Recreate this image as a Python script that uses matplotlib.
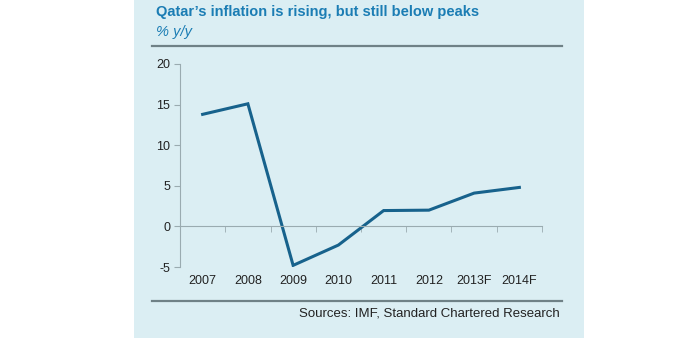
import matplotlib.pyplot as plt
from matplotlib.patches import Rectangle
from matplotlib.lines import Line2D

# данные графика
years = ["2007", "2008", "2009", "2010", "2011", "2012", "2013F", "2014F"]
inflation = [13.8, 15.1, -4.8, -2.3, 1.95, 2.0, 4.1, 4.8]
y_ticks = [-5, 0, 5, 10, 15, 20]

W, H = 692, 338
fig = plt.figure(figsize=(W / 100, H / 100), dpi=100)
fig.patch.set_facecolor("white")
plt.rcParams["font.family"] = ["Liberation Sans", "DejaVu Sans"]

# голубая подложка
fig.patches.append(Rectangle((134 / W, 0), 450 / W, 1, transform=fig.transFigure,
                             facecolor="#dbeef3", edgecolor="none", zorder=-5))

# заголовок и подзаголовок
fig.text(156 / W, 1 - 12 / H, "Qatar\u2019s inflation is rising, but still below peaks",
         color="#1b7db4", fontsize=10.5, fontweight="bold", va="center", ha="left")
fig.text(156 / W, 1 - 32 / H, "% y/y", color="#1b7db4", fontsize=10.5,
         style="italic", va="center", ha="left")

# горизонтальные линии сверху и снизу
for yy in (46, 301):
    fig.lines.append(Line2D([152 / W, 562 / W], [1 - yy / H, 1 - yy / H],
                            transform=fig.transFigure, color="#6f8186", lw=1.6))

fig.text(560 / W, 1 - 314 / H, "Sources: IMF, Standard Chartered Research",
         color="#222222", fontsize=9.5, ha="right", va="center")

ax = fig.add_axes([180 / W, 1 - 267 / H, 362 / W, 203 / H])
ax.set_facecolor("none")
ax.set_zorder(2)
x = list(range(len(years)))
ax.plot(x, inflation, color="#17628c", lw=2.2, solid_joinstyle="miter")

ax.set_xlim(-0.5, len(years) - 0.5)
ax.set_ylim(-5, 20)
ax.set_yticks(y_ticks)
ax.set_yticklabels([str(v) for v in y_ticks])

for s in ("top", "right"):
    ax.spines[s].set_visible(False)
ax.spines["left"].set_color("#9aabb0")
ax.spines["bottom"].set_color("#9aabb0")
ax.spines["bottom"].set_position(("data", 0))

ax.set_xticks(x)
ax.set_xticklabels(years)
ax.set_xticks([i + 0.5 for i in x], minor=True)
ax.tick_params(axis="x", which="major", length=0, pad=35, labelsize=9, labelcolor="#222222")
ax.tick_params(axis="x", which="minor", length=4, color="#9aabb0", direction="out")
ax.tick_params(axis="y", length=4, color="#9aabb0", labelsize=9, labelcolor="#222222", pad=3)

fig.savefig("out.png", dpi=100)
